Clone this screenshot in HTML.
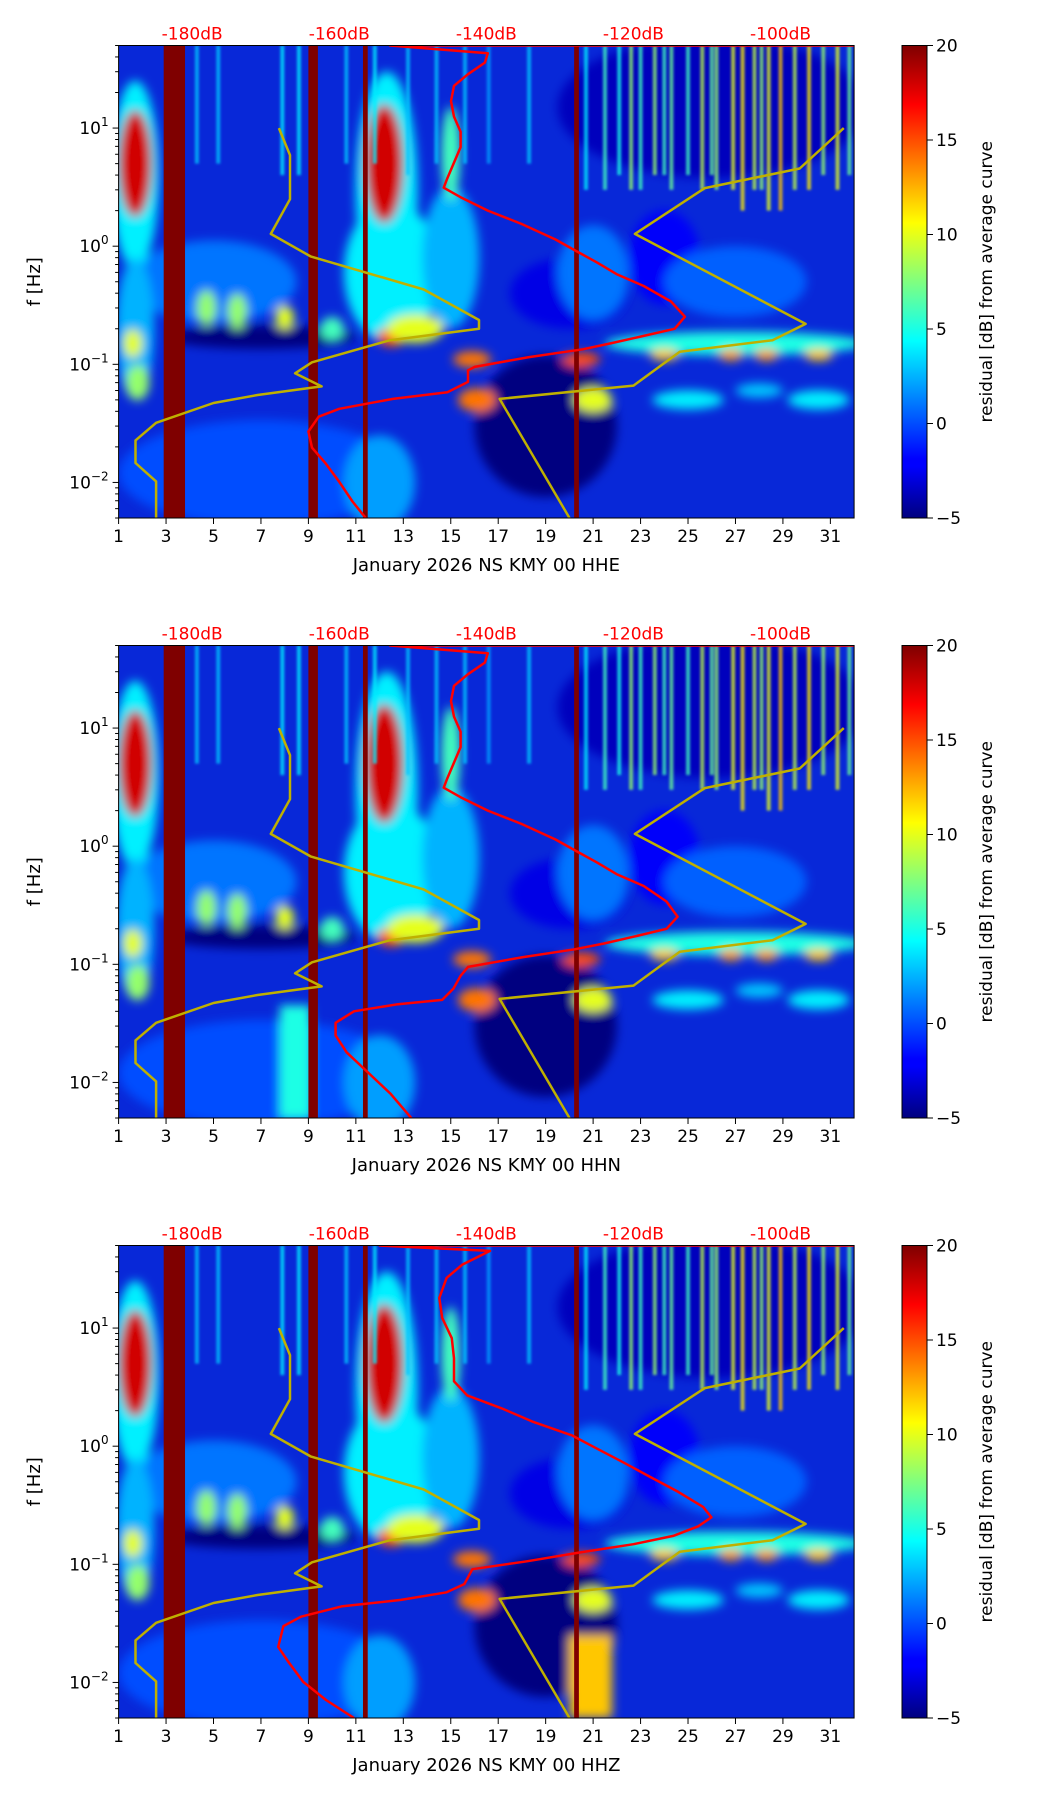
<!DOCTYPE html>
<html><head><meta charset="utf-8">
<style>
html,body{margin:0;padding:0;background:#fff;}
svg{display:block;font-family:"DejaVu Sans","Liberation Sans",sans-serif;}
</style></head>
<body>
<svg id="fig" width="1052" height="1806" viewBox="0 0 1052 1806" xmlns="http://www.w3.org/2000/svg">
<defs>
<filter id="blur" x="-50%" y="-50%" width="200%" height="200%"><feGaussianBlur stdDeviation="5"/></filter>
<filter id="blur2" x="-50%" y="-50%" width="200%" height="200%"><feGaussianBlur stdDeviation="1.2"/></filter>
<linearGradient id="jet" x1="0" y1="1" x2="0" y2="0">
<stop offset="0" stop-color="#00007f"/><stop offset="0.11" stop-color="#0000ff"/>
<stop offset="0.125" stop-color="#0000ff"/><stop offset="0.375" stop-color="#00ffff"/>
<stop offset="0.625" stop-color="#ffff00"/><stop offset="0.875" stop-color="#ff0000"/>
<stop offset="1" stop-color="#7f0000"/></linearGradient>
<linearGradient id="fade" x1="0" y1="0" x2="0" y2="1"><stop offset="0" stop-color="#fff" stop-opacity="1"/><stop offset="0.7" stop-color="#fff" stop-opacity="0.8"/><stop offset="1" stop-color="#fff" stop-opacity="0"/></linearGradient>
</defs>
</svg>
<script>
// ---- data ----
const dayTicks=[1,3,5,7,9,11,13,15,17,19,21,23,25,27,29,31];
const dbTicks=[-180,-160,-140,-120,-100];
const cbTicks=[20,15,10,5,0,-5];
const yDecades=[-2,-1,0,1];
const panelTitles=["January 2026 NS KMY 00 HHE","January 2026 NS KMY 00 HHN","January 2026 NS KMY 00 HHZ"];
// low noise model (dB, Hz)
const nlnmDb=[-168.2,-166.7,-166.7,-169.3,-163.9,-148.5,-141.0,-141.0,-153.1,-163.7,-166.0,-162.4,-171.1,-177.1,-184.9,-187.7,-187.7,-184.9,-184.9];
const nlnmF=[10,5.9,2.5,1.27,0.82,0.43,0.237,0.2,0.16,0.104,0.084,0.065,0.055,0.047,0.032,0.0227,0.0146,0.0102,0.005];
// high noise model
const nhnmDb=[-91.4,-97.4,-110.3,-119.8,-96.6,-101.1,-113.7,-120.0,-138.2,-128.7];
const nhnmF=[10,4.55,3.1,1.27,0.22,0.16,0.128,0.066,0.051,0.005];
// mean PSD curves per panel
const red1Db=[-90,-153.1,-139.8,-140.2,-142.5,-144.4,-144.8,-144.4,-143.5,-143.5,-144.4,-145.3,-145.8,-143.5,-139.8,-135.2,-130.6,-127.8,-125.0,-122.3,-118.6,-114.9,-113.0,-114.4,-118.6,-123.2,-126.9,-134.2,-141.6,-142.5,-142.5,-145.3,-152.7,-160.0,-162.8,-164.2,-163.7,-161.9,-160.0,-158.2,-156.4];
const red1F=[50,50,43,35.8,28.6,22.8,16.9,12.5,9.3,6.9,5.1,3.77,3.13,2.6,2.0,1.54,1.14,0.91,0.73,0.58,0.46,0.34,0.253,0.2,0.174,0.15,0.134,0.115,0.095,0.089,0.071,0.058,0.051,0.042,0.036,0.027,0.0197,0.0146,0.0101,0.0069,0.005];
const red2Db=[-90,-153.1,-139.8,-140.2,-142.5,-144.4,-144.8,-144.4,-143.5,-143.5,-144.4,-145.3,-145.8,-143.5,-139.8,-135.2,-130.6,-127.8,-125.0,-122.3,-118.6,-115.5,-114.0,-115.5,-119.5,-124,-128,-135,-142.5,-143.5,-144.5,-146,-152,-158,-160.5,-160.5,-159,-156,-153,-150.2];
const red2F=[50,50,43,35.8,28.6,22.8,16.9,12.5,9.3,6.9,5.1,3.77,3.13,2.6,2.0,1.54,1.14,0.91,0.73,0.58,0.46,0.34,0.253,0.2,0.174,0.15,0.134,0.115,0.095,0.08,0.062,0.05,0.046,0.04,0.032,0.025,0.018,0.012,0.008,0.005];
const red3Db=[-90,-154.5,-139.5,-143.3,-145.4,-146.4,-146.0,-144.7,-144.4,-144.4,-142.6,-137.9,-133.8,-128.3,-125.6,-121.4,-118.0,-113.9,-110.5,-109.4,-111.2,-114.6,-120.0,-127.0,-134.5,-141.9,-143.0,-145.4,-151.6,-159.7,-165.2,-167.6,-168.3,-166.9,-164.9,-161.8,-158.0];
const red3F=[50,50,45,34.3,26.6,18.0,12.2,8.2,5.55,3.54,2.69,2.09,1.62,1.23,1.0,0.73,0.56,0.41,0.305,0.25,0.21,0.174,0.148,0.127,0.106,0.091,0.068,0.058,0.05,0.044,0.036,0.030,0.020,0.0149,0.0101,0.0071,0.005];
// saturated gap columns (start day, end day)
const gapStart=[2.9,9.0,11.3,20.2];
const gapEnd=[3.8,9.4,11.5,20.4];
// residual blobs: day, freq, day-radius, decade-radius, residual dB
const blobDay=[5,12.5,15,20,24,7,19,1.7,1.7,12.3,12.2,12.2,15,4.7,6,8,10,1.6,1.8,12.5,13.5,15.9,16.1,20.5,21,27,24,26.8,28.3,30.5,25,30.5,28,26,7,12,1.7,12.2,21,27];
const blobF=[0.5,0.6,0.8,0.4,0.8,0.17,0.03,4,0.2,3,5,5,6,0.3,0.28,0.25,0.2,0.15,0.07,0.17,0.2,0.11,0.05,0.11,0.05,0.15,0.12,0.12,0.12,0.12,0.05,0.05,0.06,15,0.012,0.01,5,5,0.6,0.5];
const blobRx=[3.5,2,1.2,2.5,1.5,4,3,1.0,0.8,1.3,0.8,0.5,0.4,0.4,0.4,0.4,0.5,0.4,0.5,0.6,1.2,0.8,0.8,0.8,0.8,5.5,0.6,0.5,0.5,0.6,1.5,1.3,1,6.5,6,1.5,0.7,0.8,1.5,3];
const blobRy=[0.35,0.6,0.6,0.3,0.4,0.1,0.6,0.8,0.6,1.0,0.5,0.3,0.4,0.15,0.15,0.1,0.1,0.12,0.15,0.08,0.12,0.07,0.1,0.06,0.1,0.1,0.05,0.05,0.05,0.05,0.08,0.08,0.06,0.6,0.45,0.4,0.45,0.5,0.4,0.3];
const blobVal=[1,4,2.5,-2.5,-2,-5,-5,4,2.5,4,18,20,6,8,8,10,6,10,8,15,10,14,14,15,10,5,12,13,13,12,4,4,3,-3.5,0,2,18,18,1,0.5];
// high-frequency streaks (day)
const streakDay=[4.3,5.2,7.9,8.6,10.6,11.8,13.2,14.4,15.6,16.6,18.3,20.7,21.5,22.1,22.6,23.0,23.6,24.0,24.3,25.0,25.6,26.0,26.2,26.9,27.3,27.8,28.1,28.4,28.9,29.5,30.1,30.7,31.3,31.8];
const streakVal=[3,3,4,4,3,4,3,3,3,2,3,4,6,5,8,6,8,6,7,6,9,7,8,10,11,9,8,10,12,9,11,8,10,7];
const streakLowF=[5,5,4,4,5,5,4,5,5,5,5,3,3,4,3,3,4,4,3,4,3,4,3,3,2,3,3,2,2,3,3,4,3,4];
// ---- layout ----
const L=118.6,W=735.5,H=472.5,tops=[45.5,645.5,1245.5];
const FMAX=50,FMIN=0.005,DMIN=1,DMAX=32,DBMIN=-190,DBMAX=-90;
const svg=document.getElementById('fig');
const NS='http://www.w3.org/2000/svg';
function el(tag,attrs,parent){const e=document.createElementNS(NS,tag);for(const k in attrs)e.setAttribute(k,attrs[k]);(parent||svg).appendChild(e);return e;}
function jet(v){let t=(v+5)/25;t=Math.max(0,Math.min(1,t));const c=x=>Math.round(255*Math.max(0,Math.min(1,1.5-Math.abs(4*t-x))));return `rgb(${c(3)},${c(2)},${c(1)})`;}
function X(d){return L+(d-DMIN)/(DMAX-DMIN)*W;}
function XD(db){return L+(db-DBMIN)/(DBMAX-DBMIN)*W;}
function mkY(T){const a=Math.log10(FMAX),b=Math.log10(FMIN);return f=>T+(a-Math.log10(f))/(a-b)*H;}

tops.forEach((T,p)=>{
  const Y=mkY(T);
  const g=el('g',{});
  
  
  const cp=el('clipPath',{id:'cp'+p},g);el('rect',{x:L,y:T,width:W,height:H},cp);
  const heat=el('g',{'clip-path':`url(#cp${p})`},g);
  
  
  el('rect',{x:L,y:T,width:W,height:H,fill:'#0828d8'},heat);
  const bl=el('g',{filter:'url(#blur)'},heat);
  for(let i=0;i<blobDay.length;i++){
    const cx=X(blobDay[i]),cy=Y(blobF[i]);
    const rx=blobRx[i]/(DMAX-DMIN)*W, ry=blobRy[i]/(Math.log10(FMAX)-Math.log10(FMIN))*H;
    const e=el('ellipse',{cx:cx,cy:cy,rx:rx,ry:ry,fill:jet(blobVal[i])},bl);
    
    
  }
  if(p===1){const e=el('rect',{x:X(7.8),y:Y(0.045),width:X(9.1)-X(7.8),height:Y(0.005)-Y(0.045),fill:jet(5)},bl);}
  if(p===2){const e=el('rect',{x:X(20),y:Y(0.025),width:X(21.8)-X(20),height:Y(0.005)-Y(0.025),fill:jet(12)},bl);}
  const sl=el('g',{filter:'url(#blur2)'},heat);
  for(let i=0;i<streakDay.length;i++){
    const s=el('rect',{x:X(streakDay[i])-2,y:T,width:4,height:Y(streakLowF[i])-T,fill:jet(streakVal[i]),opacity:0.75},sl);
    
    
  }
  for(let i=0;i<gapStart.length;i++){
    const r=el('rect',{x:X(gapStart[i]),y:T,width:X(gapEnd[i])-X(gapStart[i]),height:H,fill:'#7f0000'},heat);
    
    
  }
  const line=(dbs,fs,color,name,w)=>{
    const pts=dbs.map((d,i)=>XD(d).toFixed(1)+','+Y(fs[i]).toFixed(1)).join(' ');
    const pl=el('polyline',{points:pts,fill:'none',stroke:color,'stroke-width':w,'stroke-linejoin':'round'},heat);
    
    
  };
  line(nlnmDb,nlnmF,'#bfb000','low-noise-model-curve',2.5);
  line(nhnmDb,nhnmF,'#bfb000','high-noise-model-curve',2.5);
  const rd=[[red1Db,red1F],[red2Db,red2F],[red3Db,red3F]][p];
  line(rd[0],rd[1],'#ff0000','mean-psd-curve',2.5);
  const fr=el('rect',{x:L,y:T,width:W,height:H,fill:'none',stroke:'#000','stroke-width':1},g);
  
  dayTicks.forEach(d=>{
    el('line',{x1:X(d),x2:X(d),y1:T+H,y2:T+H+6,stroke:'#000'},g);
    const t=el('text',{x:X(d),y:T+H+24,'font-size':17,'text-anchor':'middle'},g);t.textContent=d;
    
  });
  const xl=el('text',{x:(L+L+W)/2,y:T+H+53,'font-size':18,'text-anchor':'middle'},g);xl.textContent=panelTitles[p];
  
  dbTicks.forEach(d=>{
    const t=el('text',{x:XD(d),y:T-6,'font-size':17,'text-anchor':'middle',fill:'#ff0000'},g);t.textContent=d+'dB';
    
  });
  for(let e=-3;e<=1;e++){for(let m=1;m<10;m++){const f=m*Math.pow(10,e);if(f<FMIN||f>FMAX)continue;
    el('line',{x1:L-(m===1?6:3.5),x2:L,y1:Y(f),y2:Y(f),stroke:'#000'},g);}}
  yDecades.forEach(e=>{
    const t=el('text',{x:L-10,y:Y(Math.pow(10,e))+6,'font-size':17,'text-anchor':'end'},g);
    
    const a=el('tspan',{},t);a.textContent='10';
    const b=el('tspan',{dy:-8,'font-size':12},t);b.textContent=e<0?'\u2212'+(-e):''+e;
  });
  const yl=el('text',{x:0,y:0,'font-size':18,'text-anchor':'middle',transform:`translate(40,${T+H/2}) rotate(-90)`},g);yl.textContent='f [Hz]';
  
  const cb=el('g',{},g);
  el('rect',{x:902,y:T,width:25,height:H,fill:'url(#jet)',stroke:'#000','stroke-width':1},cb);
  cbTicks.forEach(v=>{const y=T+(20-v)/25*H;el('line',{x1:927,x2:933,y1:y,y2:y,stroke:'#000'},cb);
    const t=el('text',{x:936,y:y+6,'font-size':17},cb);t.textContent=v<0?'\u2212'+(-v):v;
    });
  const cl=el('text',{x:0,y:0,'font-size':17,'text-anchor':'middle',transform:`translate(992,${T+H/2}) rotate(-90)`},cb);cl.textContent='residual [dB] from average curve';
  
});
</script>
</body></html>
